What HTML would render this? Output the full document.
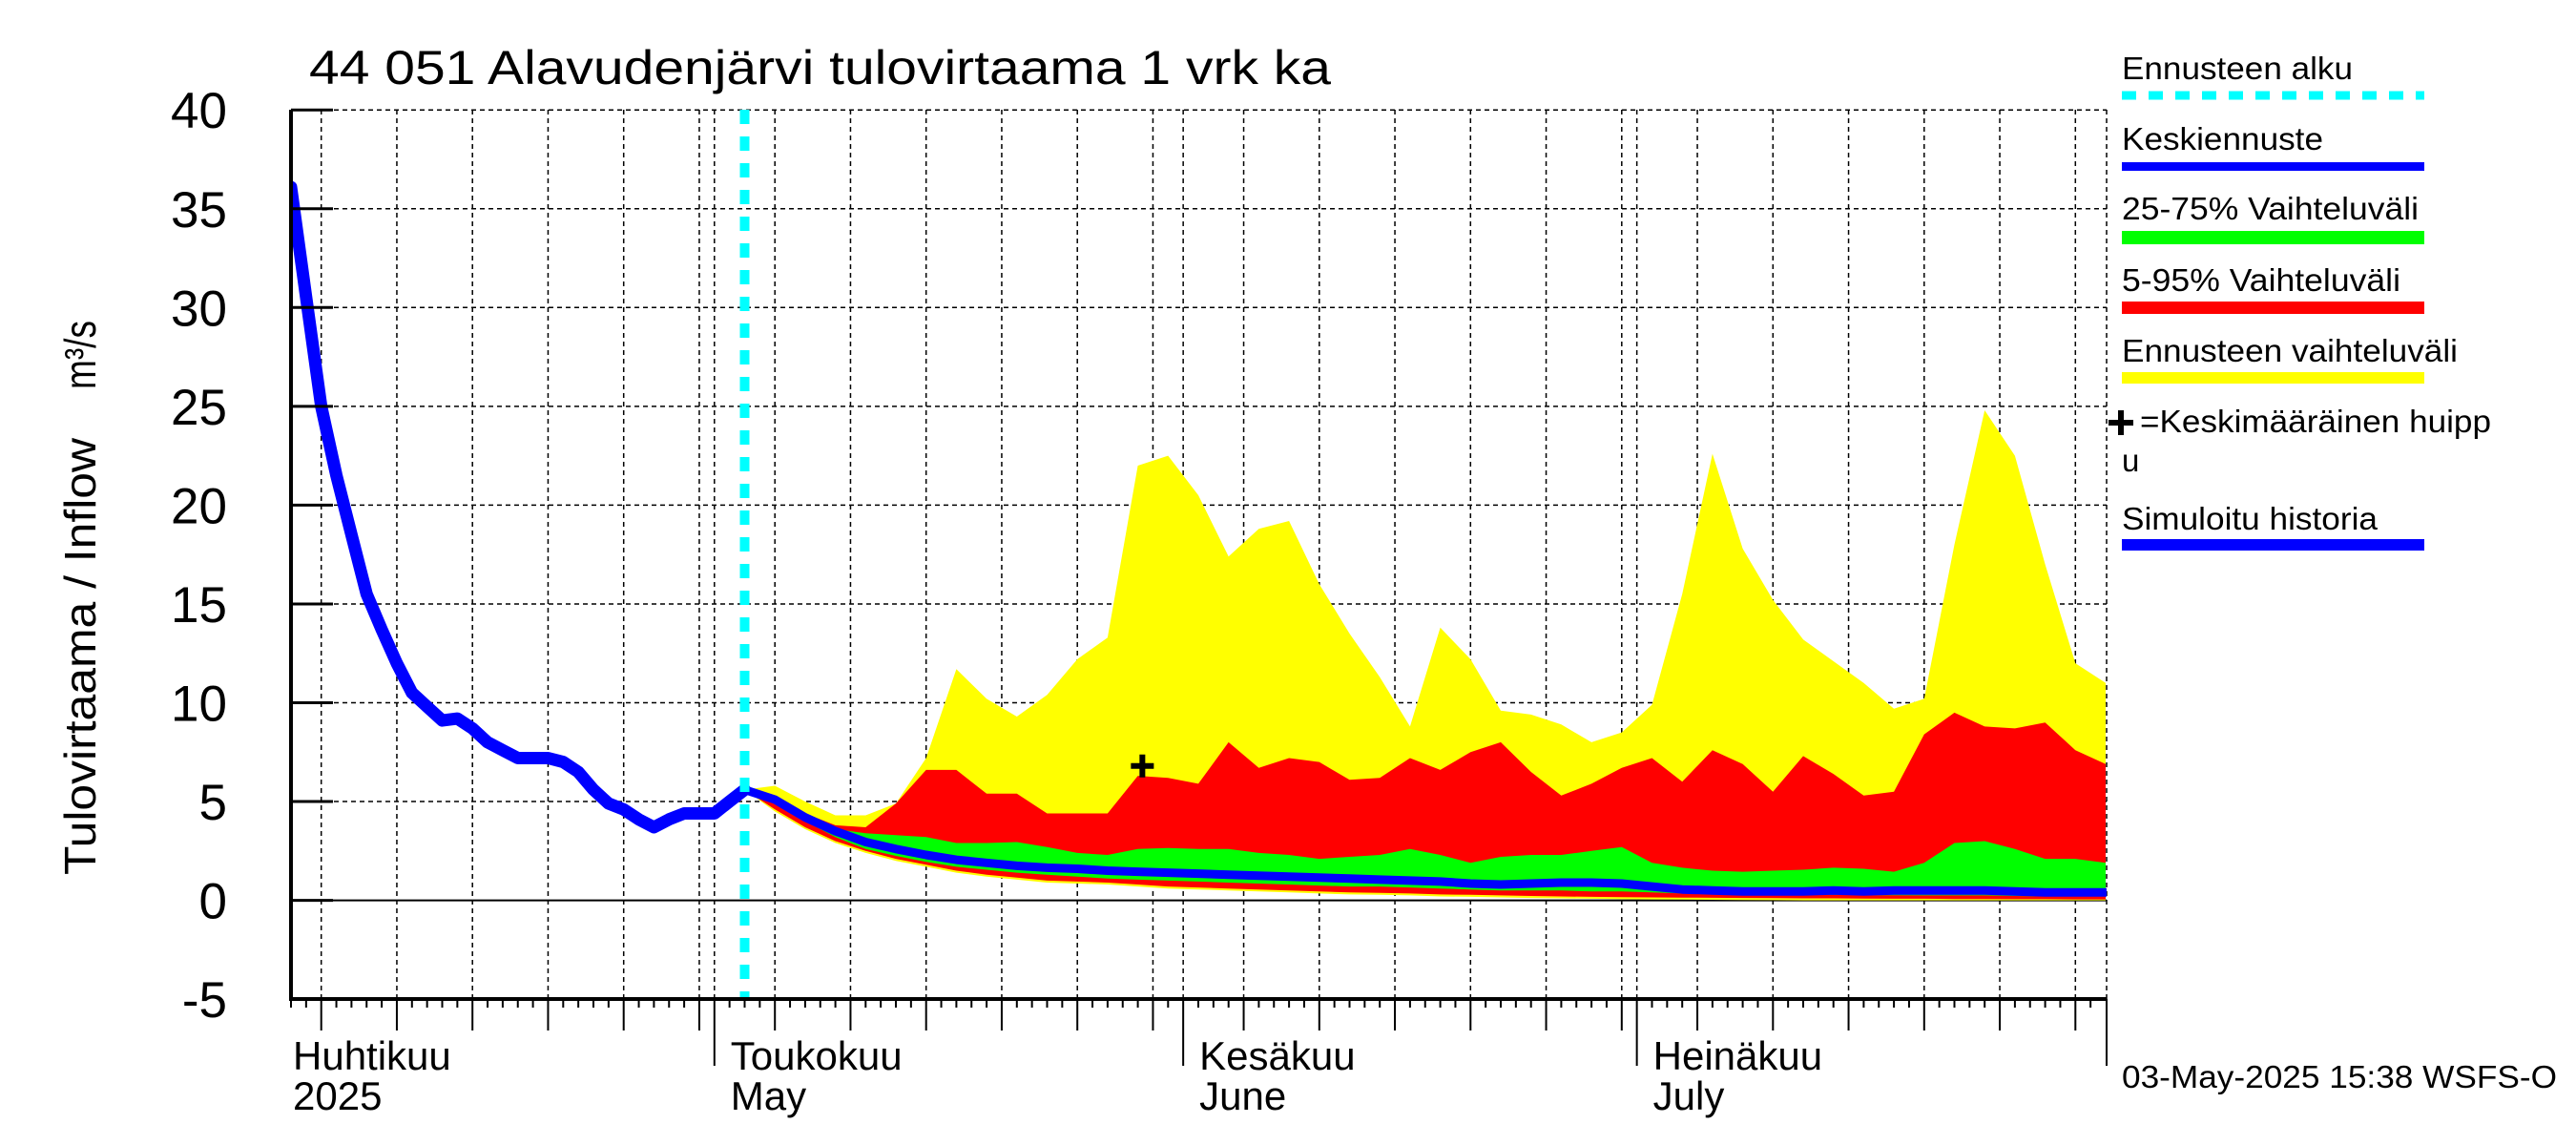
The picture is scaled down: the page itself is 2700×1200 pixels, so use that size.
<!DOCTYPE html>
<html><head><meta charset="utf-8"><style>
html,body{margin:0;padding:0;background:#fff;}
svg{display:block;font-family:"Liberation Sans",Arial,sans-serif;}
</style></head><body>
<svg id="chart" width="2700" height="1200" viewBox="0 0 2700 1200">
<defs><clipPath id="plotclip"><rect x="305" y="115" width="1903" height="932"/></clipPath></defs>
<g id="grid"></g>
<g id="series" clip-path="url(#plotclip)"></g>
<g id="axes"></g>
<text x="324" y="88" font-size="50" textLength="1071" lengthAdjust="spacingAndGlyphs">44 051 Alavudenjärvi tulovirtaama 1 vrk ka</text>
<text transform="translate(100,688) rotate(-90)" text-anchor="middle" font-size="46" textLength="458" lengthAdjust="spacingAndGlyphs">Tulovirtaama / Inflow</text>
<text transform="translate(100,372) rotate(-90)" text-anchor="middle" font-size="46" textLength="72" lengthAdjust="spacingAndGlyphs">m³/s</text>
<g id="legend">
<text x="2224" y="83" font-size="33" textLength="242" lengthAdjust="spacingAndGlyphs">Ennusteen alku</text>
<line x1="2224" y1="100" x2="2541" y2="100" stroke="#00ffff" stroke-width="9" stroke-dasharray="15,13"/>
<text x="2224" y="157" font-size="33" textLength="211" lengthAdjust="spacingAndGlyphs">Keskiennuste</text>
<line x1="2224" y1="174.5" x2="2541" y2="174.5" stroke="#0000ff" stroke-width="9"/>
<text x="2224" y="230" font-size="33" textLength="311" lengthAdjust="spacingAndGlyphs">25-75% Vaihteluväli</text>
<line x1="2224" y1="249" x2="2541" y2="249" stroke="#00ff00" stroke-width="14"/>
<text x="2224" y="305" font-size="33" textLength="292" lengthAdjust="spacingAndGlyphs">5-95% Vaihteluväli</text>
<line x1="2224" y1="322.5" x2="2541" y2="322.5" stroke="#ff0000" stroke-width="13"/>
<text x="2224" y="379" font-size="33" textLength="352" lengthAdjust="spacingAndGlyphs">Ennusteen vaihteluväli</text>
<line x1="2224" y1="396" x2="2541" y2="396" stroke="#ffff00" stroke-width="12"/>
<path d="M2210 443 H2236 M2223 430 V456" stroke="#000" stroke-width="6"/>
<text x="2243" y="453" font-size="33" textLength="368" lengthAdjust="spacingAndGlyphs">=Keskimääräinen huipp</text>
<text x="2224" y="494" font-size="33">u</text>
<text x="2224" y="555" font-size="33" textLength="268" lengthAdjust="spacingAndGlyphs">Simuloitu historia</text>
<line x1="2224" y1="571" x2="2541" y2="571" stroke="#0000ff" stroke-width="12"/>
</g>
<text x="2224" y="1140" font-size="33" textLength="456" lengthAdjust="spacingAndGlyphs">03-May-2025 15:38 WSFS-O</text>
</svg>
<script>
// data
const histDays = [0,1,2,3,4,5,6,7,8,9,10,11,12,13,14,15,16,17,18,19,20,21,22,23,24,25,26,27,28,29,30];
const histValues = [36.1,30.5,25,21.5,18.5,15.5,13.7,12,10.5,9.8,9.1,9.2,8.7,8.0,7.6,7.2,7.2,7.2,7.0,6.5,5.6,4.9,4.6,4.1,3.7,4.1,4.4,4.4,4.4,5.0,5.6];
const fcDays = [30,32,34,36,38,40,42,44,46,48,50,52,54,56,58,60,62,64,66,68,70,72,74,76,78,80,82,84,86,88,90,92,94,96,98,100,102,104,106,108,110,112,114,116,118,120];
const yellowUpper = [5.6,5.8,5.0,4.3,4.3,4.9,7.2,11.7,10.2,9.3,10.4,12.2,13.3,22.0,22.5,20.5,17.4,18.8,19.2,16.0,13.5,11.3,8.8,13.8,12.2,9.6,9.4,8.9,8.0,8.5,9.9,15.5,22.6,17.8,15.2,13.2,12.1,11.0,9.7,10.2,18.0,24.8,22.5,17.0,12.0,11.0];
const yellowLower = [5.6,4.5,3.6,2.9,2.4,2.0,1.7,1.4,1.2,1.05,0.9,0.85,0.8,0.7,0.6,0.55,0.5,0.45,0.4,0.35,0.3,0.28,0.25,0.2,0.18,0.15,0.12,0.1,0.08,0.06,0.05,0.04,0.03,0.02,0.01,0,0,0,0,0,0,0,0,0,0,0];
const redUpper = [5.6,5.2,4.4,3.8,3.7,4.9,6.6,6.6,5.4,5.4,4.4,4.4,4.4,6.3,6.2,5.9,8.0,6.7,7.2,7.0,6.1,6.2,7.2,6.6,7.5,8.0,6.5,5.3,5.9,6.7,7.2,6.0,7.6,6.9,5.5,7.3,6.4,5.3,5.5,8.4,9.5,8.8,8.7,9.0,7.6,6.9];
const redLower = [5.6,4.6,3.7,3.0,2.5,2.1,1.8,1.5,1.3,1.15,1.0,0.95,0.9,0.8,0.7,0.65,0.6,0.55,0.5,0.45,0.4,0.38,0.35,0.3,0.28,0.25,0.22,0.2,0.18,0.16,0.15,0.14,0.13,0.12,0.11,0.1,0.1,0.09,0.08,0.08,0.07,0.07,0.06,0.06,0.05,0.05];
const greenUpper = [5.6,4.9,4.0,3.6,3.4,3.3,3.2,2.9,2.9,2.95,2.7,2.4,2.3,2.6,2.65,2.6,2.6,2.4,2.3,2.1,2.2,2.3,2.6,2.3,1.9,2.2,2.3,2.3,2.5,2.7,1.9,1.65,1.5,1.45,1.5,1.55,1.65,1.6,1.45,1.9,2.9,3.0,2.6,2.1,2.1,1.9];
const greenLower = [5.6,4.9,4.0,3.2,2.6,2.25,1.95,1.7,1.55,1.4,1.3,1.2,1.1,1.05,1.0,0.95,0.9,0.85,0.8,0.75,0.7,0.7,0.65,0.6,0.55,0.5,0.5,0.5,0.45,0.45,0.4,0.35,0.3,0.3,0.3,0.28,0.28,0.26,0.26,0.25,0.25,0.25,0.22,0.2,0.2,0.2];
const meanValues = [5.6,5.1,4.2,3.5,2.95,2.6,2.3,2.05,1.9,1.75,1.65,1.6,1.5,1.45,1.4,1.35,1.3,1.25,1.2,1.15,1.1,1.05,1.0,0.95,0.85,0.8,0.85,0.9,0.9,0.85,0.7,0.55,0.5,0.45,0.45,0.45,0.5,0.45,0.5,0.5,0.5,0.5,0.45,0.4,0.4,0.4];
const peakDay = [56.3];
const peakValue = [6.8];
const forecastStartDay = 30;
const yTicks = [-5,0,5,10,15,20,25,30,35,40];
const yTickLabels = ["-5","0","5","10","15","20","25","30","35","40"];
const monthStartDays = [-2,28,59,89];
const monthLabelsFi = ["Huhtikuu","Toukokuu","Kesäkuu","Heinäkuu"];
const monthLabelsEn = ["2025","May","June","July"];

const NS = "http://www.w3.org/2000/svg";
const X0 = 305, PXD = 15.85, XMAX = 2208, DMAX = 120;
function xs(d){ return X0 + d * PXD; }
function ys(v){ return 943.6 - v * 20.71; }
function mk(tag, attrs, parent){ const e = document.createElementNS(NS, tag); for (const k in attrs) e.setAttribute(k, attrs[k]); parent.appendChild(e); return e; }

const grid = document.getElementById('grid');
const series = document.getElementById('series');
const axes = document.getElementById('axes');

yTicks.forEach((v, i) => {
  if (v > -5) {
    const l = mk('line', {x1: X0, x2: XMAX, y1: ys(v), y2: ys(v), stroke: '#000', 'stroke-width': v === 0 ? 2 : 1.5, 'stroke-dasharray': v === 0 ? 'none' : '5,4'}, grid);
    
    
  }
  const t = mk('line', {x1: X0, x2: X0 + 44, y1: ys(v), y2: ys(v), stroke: '#000', 'stroke-width': 3}, axes);
  
  
  const tx = mk('text', {x: 238, y: ys(v) + 19, 'font-size': 53, 'text-anchor': 'end'}, axes);
  tx.textContent = yTickLabels[i];
  
  
});

const monthLens = [30, 31, 30, 31];
for (let m = 0; m < 4; m++) {
  const start = monthStartDays[m];
  for (let dom = 1; dom <= monthLens[m]; dom++) {
    const d = start + dom - 1;
    if (d < 0 || d > DMAX) continue;
    const x = xs(d);
    let len = 9;
    if (dom === 1) len = 70;
    else if (dom % 5 === 0) len = 33;
    const tk = mk('line', {x1: x, x2: x, y1: 1047, y2: 1047 + len, stroke: '#000', 'stroke-width': 2}, axes);
    
    
    if ((dom === 1 || dom % 5 === 0) && d > 0) {
      const g = mk('line', {x1: x, x2: x, y1: 115, y2: 1047, stroke: '#000', 'stroke-width': 1.5, 'stroke-dasharray': '5,4'}, grid);
      
      
    }
  }
}
const rb = mk('line', {x1: XMAX, x2: XMAX, y1: 115, y2: 1047, stroke: '#000', 'stroke-width': 1.5, 'stroke-dasharray': '5,4'}, grid);


const rt = mk('line', {x1: XMAX, x2: XMAX, y1: 1047, y2: 1117, stroke: '#000', 'stroke-width': 2}, axes);



monthLabelsFi.forEach((lab, i) => {
  const x = Math.max(xs(monthStartDays[i]), X0) + (i === 0 ? 2 : 17);
  const t1 = mk('text', {x: x, y: 1121, 'font-size': 42}, axes);
  t1.textContent = lab;
  
  
  const t2 = mk('text', {x: x, y: 1163, 'font-size': 42}, axes);
  t2.textContent = monthLabelsEn[i];
  
  
});

function band(up, lo, color, name) {
  let d = '';
  fcDays.forEach((dd, i) => { d += (i ? 'L' : 'M') + xs(dd).toFixed(1) + ' ' + ys(up[i]).toFixed(1) + ' '; });
  for (let i = fcDays.length - 1; i >= 0; i--) d += 'L' + xs(fcDays[i]).toFixed(1) + ' ' + ys(lo[i]).toFixed(1) + ' ';
  const p = mk('path', {d: d + 'Z', fill: color, stroke: 'none'}, series);
  
  
}
band(yellowUpper, yellowLower, '#ffff00', 'forecast-range-band');
band(redUpper, redLower, '#ff0000', 'band-5-95');
band(greenUpper, greenLower, '#00ff00', 'band-25-75');

function line(days, vals, w, name) {
  const pts = days.map((d, i) => xs(d).toFixed(1) + ',' + ys(vals[i]).toFixed(1)).join(' ');
  const p = mk('polyline', {points: pts, fill: 'none', stroke: '#0000ff', 'stroke-width': w, 'stroke-linejoin': 'round', 'stroke-linecap': 'round'}, series);
  
  
}
line(fcDays, meanValues, 9, 'mean-forecast-line');
line(histDays, histValues, 13, 'simulated-history-line');

const fs = mk('line', {x1: xs(forecastStartDay), x2: xs(forecastStartDay), y1: 115, y2: 1047, stroke: '#00ffff', 'stroke-width': 10, 'stroke-dasharray': '15,13'}, axes);



peakDay.forEach((d, i) => {
  const cx = xs(d), cy = ys(peakValue[i]);
  const pm = mk('path', {d: `M${cx-12} ${cy} H${cx+12} M${cx} ${cy-12} V${cy+12}`, stroke: '#000', 'stroke-width': 6}, axes);
  
  
});

const ax = mk('path', {d: `M${X0} 115 V1047 H${XMAX}`, fill: 'none', stroke: '#000', 'stroke-width': 4}, axes);


</script>
</body></html>
